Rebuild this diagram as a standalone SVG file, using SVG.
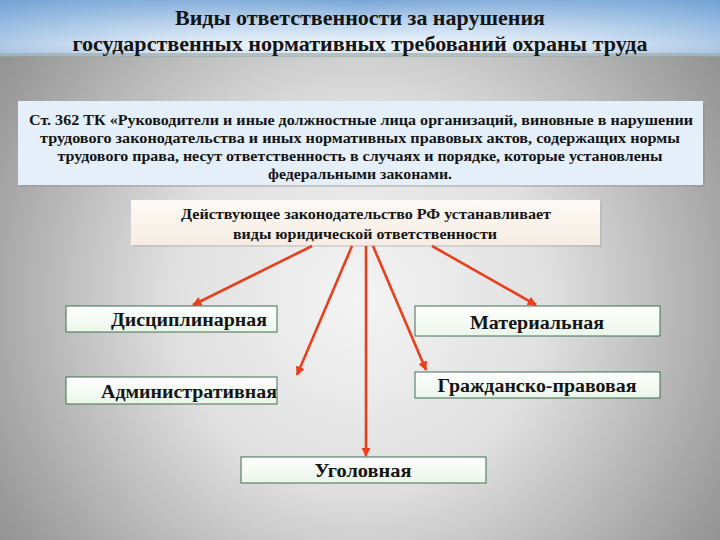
<svg xmlns="http://www.w3.org/2000/svg" width="720" height="540" viewBox="0 0 720 540">
<defs>
<radialGradient id="bg" cx="360" cy="300" r="470" gradientUnits="userSpaceOnUse">
<stop offset="0" stop-color="#f4f4f4"/>
<stop offset="0.4" stop-color="#e0e0e0"/>
<stop offset="0.8" stop-color="#a4a4a4"/>
<stop offset="1" stop-color="#888888"/>
</radialGradient>
<linearGradient id="sky" x1="0" y1="0" x2="0" y2="1">
<stop offset="0" stop-color="#76a4d6"/>
<stop offset="0.45" stop-color="#c0d8f0"/>
<stop offset="0.8" stop-color="#f0f5fb"/>
<stop offset="1" stop-color="#d6e2ec"/>
</linearGradient>
<linearGradient id="skyh" x1="0" y1="0" x2="1" y2="0">
<stop offset="0" stop-color="#6f9fd2" stop-opacity="0.5"/>
<stop offset="0.5" stop-color="#ffffff" stop-opacity="0"/>
<stop offset="1" stop-color="#6f9fd2" stop-opacity="0.5"/>
</linearGradient>
<linearGradient id="green" x1="0" y1="0" x2="0" y2="1">
<stop offset="0" stop-color="#ffffff"/>
<stop offset="1" stop-color="#eaf6ea"/>
</linearGradient>
<linearGradient id="peach" x1="0" y1="0" x2="0" y2="1">
<stop offset="0" stop-color="#fefaf6"/>
<stop offset="1" stop-color="#f6ece2"/>
</linearGradient>
<marker id="ah" viewBox="0 0 10 10" refX="9" refY="5" markerWidth="3.6" markerHeight="3.6" orient="auto">
<path d="M0,0 L10,5 L0,10 z" fill="#e8401c"/>
</marker>
<style>
text{font-family:"Liberation Serif","Times New Roman",serif;font-weight:bold;fill:#141414;text-anchor:middle}
.h{font-size:22px}
.s{font-size:15px}
.l{font-size:18px}
.box{fill:url(#green);stroke:#3f6e52;stroke-width:1}
.con{stroke:#e8401c;stroke-width:2.6;fill:none;marker-end:url(#ah)}
</style>
</defs>
<rect width="720" height="540" fill="url(#bg)"/>
<rect width="720" height="56" fill="url(#sky)"/>
<rect width="720" height="56" fill="url(#skyh)"/>
<rect y="53" width="720" height="4" fill="#9aa8a4" opacity="0.6"/>
<g id="title">
<text class="h" x="360" y="25" textLength="370" lengthAdjust="spacingAndGlyphs">Виды ответственности за нарушения</text>
<text class="h" x="360" y="51" textLength="575" lengthAdjust="spacingAndGlyphs">государственных нормативных требований охраны труда</text>
</g>
<g id="article">
<rect x="20" y="103" width="685" height="84" fill="#888" opacity="0.35"/>
<rect x="18" y="101" width="685" height="84" fill="#e4effa"/>
<text class="s" x="361" y="125" textLength="664" lengthAdjust="spacingAndGlyphs">Ст. 362 ТК «Руководители и иные должностные лица организаций, виновные в нарушении</text>
<text class="s" x="360" y="143" textLength="640" lengthAdjust="spacingAndGlyphs">трудового законодательства и иных нормативных правовых актов, содержащих нормы</text>
<text class="s" x="360" y="161" textLength="605" lengthAdjust="spacingAndGlyphs">трудового права, несут ответственность в случаях и порядке, которые установлены</text>
<text class="s" x="360" y="179" textLength="184" lengthAdjust="spacingAndGlyphs">федеральными законами.</text>
</g>
<g id="law">
<rect x="133" y="202" width="469" height="45" fill="#999" opacity="0.3"/>
<rect x="131" y="200" width="469" height="45" fill="url(#peach)"/>
<text class="s" x="366" y="219" textLength="370" lengthAdjust="spacingAndGlyphs">Действующее законодательство РФ устанавливает</text>
<text class="s" x="365" y="239" textLength="264" lengthAdjust="spacingAndGlyphs">виды юридической ответственности</text>
</g>
<g id="connectors">
<line class="con" x1="312" y1="246" x2="193" y2="305"/>
<line class="con" x1="352" y1="246" x2="297" y2="375"/>
<line class="con" x1="366" y1="246" x2="366" y2="456"/>
<line class="con" x1="373" y1="246" x2="426" y2="370"/>
<line class="con" x1="432" y1="246" x2="536" y2="305"/>
</g>
<g id="disc">
<rect class="box" x="66" y="306" width="211" height="26"/>
<text class="l" x="189" y="326" textLength="156" lengthAdjust="spacingAndGlyphs">Дисциплинарная</text>
</g>
<g id="mat">
<rect class="box" x="415" y="306" width="245" height="30"/>
<text class="l" x="537" y="329" textLength="134" lengthAdjust="spacingAndGlyphs">Материальная</text>
</g>
<g id="adm">
<rect class="box" x="66" y="377" width="211" height="27"/>
<text class="l" x="189" y="398" textLength="176" lengthAdjust="spacingAndGlyphs">Административная</text>
</g>
<g id="civ">
<rect class="box" x="415" y="372" width="245" height="26"/>
<text class="l" x="537" y="392" textLength="199" lengthAdjust="spacingAndGlyphs">Гражданско-правовая</text>
</g>
<g id="crim">
<rect class="box" x="241" y="457" width="245" height="26"/>
<text class="l" x="363" y="477" textLength="97" lengthAdjust="spacingAndGlyphs">Уголовная</text>
</g>
</svg>
